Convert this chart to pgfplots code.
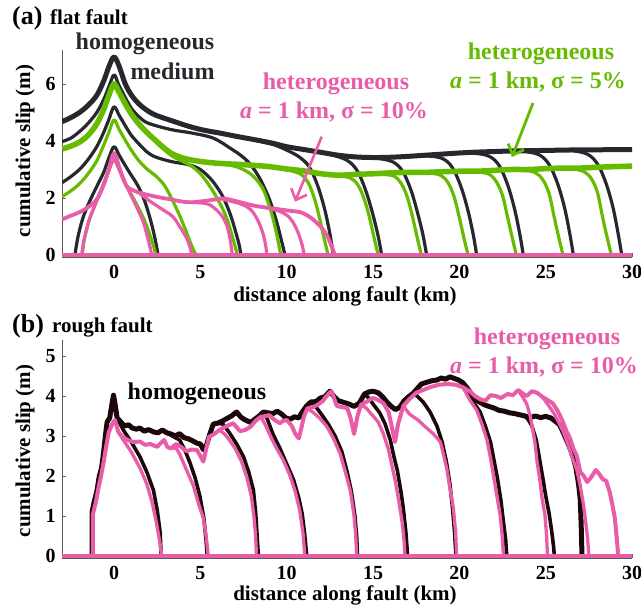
\documentclass[border=0pt]{standalone}
\usepackage{fontspec}
\setmainfont{Liberation Serif}
\usepackage{pgfplots}
\pgfplotsset{compat=1.18}
\usetikzlibrary{arrows.meta}
\definecolor{pk}{RGB}{233,92,168}
\definecolor{gr}{RGB}{102,187,0}
\definecolor{bka}{RGB}{37,40,44}
\definecolor{bkb}{RGB}{28,8,10}
\pgfplotsset{
  myaxis/.style={
    scale only axis, width=569.9pt, xmin=-3, xmax=30,
    axis x line*=bottom, axis y line*=left,
    axis line style={-, draw=black!65, line width=0.8pt},
    tick align=inside, major tick length=4pt,
    tick style={draw=black!60, line width=0.7pt},
    xtick={0,5,...,30},
    tick label style={font=\fontsize{20}{24}\selectfont\bfseries},
    /pgf/number format/assume math mode=true,
    xticklabel style={anchor=base, yshift=-21pt},
    yticklabel style={anchor=east, xshift=-3pt},
  },
  ba/.style={bka, line width=3.2pt, smooth, tension=0.55, line join=round},
  ga/.style={gr, line width=3.2pt, smooth, tension=0.55, line join=round},
  pa/.style={pk, line width=3.2pt, smooth, tension=0.55, line join=round},
  bb/.style={bkb, line width=3.6pt, line join=round},
  pb/.style={pk, line width=3.3pt, line join=round},
}
\newcommand{\lab}{\fontsize{21}{25}\selectfont\bfseries}
\newcommand{\ann}{\fontsize{24}{28}\selectfont\bfseries}
\begin{document}
\begin{tikzpicture}
\useasboundingbox (0,0) rectangle (641pt,609pt);
% ---------------- panel (a)
\begin{axis}[myaxis, at={(62.2pt,351.7pt)}, anchor=south west, height=207.5pt,
  ymin=-0.08, ymax=7.2, ytick={0,2,4,6}]
% black homogeneous
\addplot[ba, line width=5pt] coordinates {(-3,4.68) (-2.5,4.82) (-2,5.0) (-1.5,5.25) (-1,5.6) (-0.6,6.1) (-0.3,6.6) (0,6.95) (0.3,6.62) (0.64,6.02) (1.0,5.62) (1.41,5.32) (1.9,5.08) (2.4,4.91) (3.3,4.72) (4.3,4.52) (5.2,4.38) (6.2,4.27) (7.2,4.15) (8.2,4.04) (9.2,3.92) (10,3.8) (11,3.7) (12,3.6) (13,3.5) (14,3.44) (15,3.42) (16,3.43) (17,3.46) (18,3.5) (19,3.54) (20,3.58) (21,3.61) (22,3.63) (23,3.65) (24,3.66) (25,3.67) (26,3.68) (27,3.69) (28,3.69) (29,3.7) (30,3.7)};
\addplot[ba] coordinates {(-3,3.98) (-2.5,4.1) (-2,4.33) (-1.5,4.62) (-1,5.0) (-0.6,5.45) (-0.3,5.9) (0,6.32) (0.25,6.0) (0.5,5.7) (1.0,5.15) (1.5,4.82) (2.0,4.62) (3.3,4.4) (4.5,4.28) (5.75,4.1) (6.8,3.72) (7.5,3.42) (8.0,3.1) (8.5,2.62) (9.0,1.95) (9.4,1.2) (9.7,0.5) (9.9,0)};
\addplot[ba] coordinates {(-3,2.54) (-2.5,2.75) (-2,3.0) (-1.5,3.35) (-1,3.8) (-0.6,4.3) (-0.3,4.75) (0,5.2) (0.3,4.9) (0.64,4.55) (1.0,4.2) (1.41,3.92) (1.9,3.62) (2.4,3.44) (3.3,3.28) (4.3,3.17) (5.0,3.0) (5.7,2.6) (6.3,2.05) (6.75,1.4) (7.05,0.8) (7.25,0.35) (7.35,0)};
\addplot[ba] coordinates {(-2.26,0) (-2.1,0.6) (-1.8,1.3) (-1.4,1.9) (-1.0,2.4) (-0.6,2.9) (-0.3,3.4) (0,3.8) (0.3,3.5) (0.64,3.15) (1.0,2.8) (1.41,2.4) (1.8,1.85) (2.15,1.15) (2.4,0.5) (2.55,0)};
\addplot[ba] coordinates {(8.2,4.02) (9.2,3.88) (10.0,3.68) (10.7,3.45) (11.3,3.1) (11.8,2.42) (12.2,1.6) (12.5,0.75) (12.7,0)};
\addplot[ba] coordinates {(11.5,3.64) (12.5,3.53) (13.5,3.32) (14.1,2.94) (14.6,2.22) (15.0,1.4) (15.3,0.65) (15.5,0)};
\addplot[ba] coordinates {(14.1,3.43) (15.1,3.4) (16.1,3.28) (16.7,2.95) (17.2,2.27) (17.6,1.43) (17.9,0.68) (18.1,0)};
\addplot[ba] coordinates {(17.0,3.45) (18.0,3.48) (19.0,3.39) (19.6,3.06) (20.1,2.38) (20.5,1.55) (20.8,0.72) (21.0,0)};
\addplot[ba] coordinates {(19.7,3.56) (20.7,3.58) (21.7,3.47) (22.3,3.14) (22.8,2.45) (23.2,1.6) (23.5,0.72) (23.7,0)};
\addplot[ba] coordinates {(22.6,3.63) (23.6,3.64) (24.6,3.52) (25.2,3.17) (25.7,2.48) (26.1,1.63) (26.4,0.72) (26.6,0)};
\addplot[ba] coordinates {(25.4,3.66) (26.4,3.67) (27.4,3.54) (28.0,3.19) (28.5,2.5) (28.9,1.65) (29.2,0.72) (29.4,0)};
% green sigma = 5%
\addplot[ga, line width=5.5pt] coordinates {(-3,3.72) (-2.5,3.82) (-2,3.96) (-1.5,4.2) (-1,4.6) (-0.6,5.1) (-0.3,5.6) (0,6.0) (0.3,5.7) (0.64,5.32) (1.0,4.95) (1.41,4.62) (1.9,4.3) (2.37,4.04) (2.85,3.78) (3.34,3.56) (3.9,3.42) (4.5,3.33) (5.3,3.26) (6.2,3.21) (7.2,3.18) (8.2,3.14) (9,3.1) (10,3.02) (11,2.95) (12,2.85) (13,2.8) (14,2.83) (15,2.85) (16,2.88) (17,2.9) (18,2.9) (19,2.92) (20,2.94) (21,2.94) (22,2.97) (23,3.0) (24,3.0) (25,3.03) (26,3.05) (27,3.05) (28,3.08) (29,3.1) (30,3.12)};
\addplot[ga] coordinates {(-3,2.05) (-2.5,2.25) (-2,2.5) (-1.5,2.85) (-1,3.3) (-0.6,3.85) (-0.3,4.3) (0,4.74) (0.3,4.4) (0.64,4.04) (1.0,3.68) (1.41,3.33) (1.9,3.02) (2.37,2.8) (2.85,2.5) (3.24,2.1) (3.6,1.65) (4.0,1.1) (4.35,0.55) (4.6,0.18) (4.75,0)};
\addplot[ga] coordinates {(-1.85,0) (-1.7,0.6) (-1.4,1.3) (-1.0,1.9) (-0.6,2.5) (-0.3,3.0) (0,3.35) (0.3,3.0) (0.7,2.45) (1.2,1.9) (1.7,1.3) (2.05,0.75) (2.3,0.3) (2.42,0)};
\addplot[ga] coordinates {(2.4,3.98) (3.3,3.5) (4.4,3.15) (5.0,2.85) (5.56,2.4) (6.1,1.85) (6.52,1.3) (6.85,0.65) (7.15,0)};
\addplot[ga] coordinates {(5.5,3.24) (6.5,3.18) (7.3,3.05) (8.0,2.8) (8.6,2.35) (8.95,1.8) (9.2,1.3) (9.45,0.65) (9.65,0)};
\addplot[ga] coordinates {(9.0,3.08) (10.0,2.99) (10.8,2.84) (11.25,2.53) (11.6,1.99) (11.9,1.3) (12.18,0.55) (12.4,0)};
\addplot[ga] coordinates {(11.9,2.85) (12.9,2.78) (13.7,2.7) (14.15,2.43) (14.5,1.94) (14.8,1.3) (15.08,0.55) (15.3,0)};
\addplot[ga] coordinates {(14.4,2.83) (15.4,2.83) (16.2,2.77) (16.65,2.49) (17.0,2.0) (17.3,1.3) (17.58,0.55) (17.8,0)};
\addplot[ga] coordinates {(17.1,2.89) (18.1,2.88) (18.9,2.8) (19.35,2.53) (19.7,2.03) (20.0,1.3) (20.28,0.55) (20.5,0)};
\addplot[ga] coordinates {(19.9,2.93) (20.9,2.92) (21.7,2.84) (22.15,2.56) (22.5,2.08) (22.8,1.3) (23.08,0.55) (23.3,0)};
\addplot[ga] coordinates {(22.6,2.98) (23.6,2.98) (24.4,2.89) (24.85,2.62) (25.2,2.14) (25.5,1.3) (25.78,0.55) (26.0,0)};
\addplot[ga] coordinates {(25.4,3.03) (26.4,3.03) (27.2,2.93) (27.65,2.67) (28.0,2.18) (28.3,1.3) (28.58,0.55) (28.8,0)};
% pink sigma = 10%
\addplot[pa, line width=3.8pt] coordinates {(-3,1.25) (-2.5,1.38) (-2,1.5) (-1.5,1.68) (-1.0,1.95) (-0.6,2.45) (-0.3,3.0) (0,3.57) (0.35,3.0) (0.7,2.45) (1.0,2.3) (1.5,2.18) (2.4,2.05) (3.3,1.95) (4.3,1.85) (5.3,1.9) (6.3,1.98) (7.0,1.9) (7.5,1.82) (8.2,1.72) (9.0,1.65) (10.2,1.55) (10.8,1.5) (11.3,1.35) (11.7,1.15) (12.1,0.9) (12.4,0.6) (12.6,0.3) (12.8,0)};
\addplot[pa] coordinates {(-1.87,0) (-1.75,0.5) (-1.5,1.1) (-1.2,1.6) (-0.8,2.2) (-0.4,2.8) (-0.15,3.2) (0,3.35) (0.2,3.15) (0.5,2.7) (0.9,2.2) (1.3,1.7) (1.7,1.15) (1.95,0.6) (2.1,0.25) (2.18,0)};
\addplot[pa] coordinates {(1.5,2.15) (2.1,1.88) (2.8,1.6) (3.4,1.35) (3.8,1.0) (4.2,0.6) (4.4,0.28) (4.5,0)};
\addplot[pa] coordinates {(4.3,1.85) (5.37,1.8) (5.9,1.6) (6.33,1.3) (6.6,0.9) (6.75,0.45) (6.85,0)};
\addplot[pa] coordinates {(6.3,1.95) (7.3,1.8) (7.9,1.6) (8.3,1.25) (8.6,0.8) (8.78,0.35) (8.84,0)};
\addplot[pa] coordinates {(8.5,1.7) (9.5,1.55) (10.1,1.35) (10.5,1.0) (10.8,0.55) (10.95,0.2) (11.02,0)};
\addplot[pk, line width=3.4pt] coordinates {(-3,0) (30,0)};
\end{axis}
% ---------------- panel (b)
\begin{axis}[myaxis, at={(62.2pt,50.6pt)}, anchor=south west, height=218.4pt,
  ymin=-0.06, ymax=5.4, ytick={0,1,2,3,4,5}]
% black homogeneous
\addplot[bb, line width=5pt] coordinates {(-1.27,0) (-1.27,1.1) (-1.15,1.35) (-1.0,1.6) (-0.85,2.0) (-0.72,2.2) (-0.6,2.6) (-0.5,3.0) (-0.4,3.35) (-0.25,3.45) (-0.12,3.8) (-0.03,4.02) (0.08,3.75) (0.18,3.45) (0.4,3.35) (0.6,3.25) (0.85,3.28) (1.05,3.2) (1.3,3.17) (1.5,3.2) (1.75,3.12) (2.0,3.16) (2.3,3.1) (2.55,3.08) (2.8,3.15) (3.05,3.08) (3.3,3.05) (3.55,3.0) (3.8,3.06) (4.05,2.96) (4.3,2.93) (4.55,2.88) (4.8,2.82) (5.0,2.8) (5.17,2.66) (5.36,2.78) (5.55,3.05) (5.75,3.3) (6.0,3.32) (6.3,3.38) (6.55,3.44) (6.8,3.5) (7.1,3.6) (7.35,3.47) (7.6,3.4) (7.9,3.34) (8.1,3.4) (8.4,3.5) (8.65,3.6) (8.9,3.58) (9.2,3.56) (9.45,3.62) (9.7,3.55) (9.95,3.45) (10.2,3.42) (10.45,3.48) (10.7,3.45) (10.9,3.6) (11.15,3.75) (11.4,3.85) (11.7,3.86) (11.95,3.95) (12.2,3.98) (12.5,4.12) (12.75,3.98) (13.0,3.88) (13.3,3.84) (13.6,3.8) (13.9,3.74) (14.2,3.82) (14.5,4.05) (14.75,4.1) (15.0,4.12) (15.3,4.08) (15.55,3.98) (15.8,3.85) (16.05,3.74) (16.3,3.66) (16.55,3.72) (16.8,3.88) (17.05,3.98) (17.3,4.06) (17.55,4.18) (17.8,4.3) (18.1,4.34) (18.4,4.38) (18.7,4.4) (18.95,4.45) (19.2,4.42) (19.45,4.48) (19.7,4.44) (19.95,4.4) (20.2,4.33) (20.45,4.2) (20.7,4.05) (20.95,3.9) (21.2,3.84) (21.45,3.78) (21.7,3.74) (22.0,3.7) (22.3,3.64) (22.6,3.62) (22.9,3.58) (23.2,3.56) (23.5,3.53) (23.8,3.5) (24.1,3.46) (24.4,3.5) (24.7,3.46) (25.0,3.49) (25.3,3.45) (25.55,3.37) (25.8,3.28) (26.0,3.1) (26.2,2.9) (26.4,2.7) (26.6,2.45) (26.75,2.2) (26.9,1.8) (27.0,1.4) (27.05,0.8) (27.1,0)};
\addplot[bb] coordinates {(0.18,3.45) (0.54,3.15) (1.0,2.85) (1.5,2.48) (1.9,2.1) (2.28,1.65) (2.5,1.15) (2.67,0.6) (2.73,0)};
\addplot[bb] coordinates {(3.05,3.08) (3.3,3.02) (3.8,2.9) (4.1,2.65) (4.4,2.33) (4.7,1.95) (4.97,1.5) (5.2,0.95) (5.33,0.4) (5.4,0)};
\addplot[bb] coordinates {(6.0,3.32) (6.3,3.3) (6.7,3.07) (7.1,2.8) (7.5,2.48) (7.8,2.1) (8.07,1.65) (8.2,1.1) (8.28,0.55) (8.36,0)};
\addplot[bb] coordinates {(8.65,3.6) (8.9,3.4) (9.2,3.05) (9.6,2.7) (10.0,2.3) (10.4,1.9) (10.7,1.45) (10.9,1.05) (11.05,0.5) (11.16,0)};
\addplot[bb] coordinates {(11.4,3.85) (11.7,3.72) (12.0,3.55) (12.4,3.3) (12.8,3.0) (13.2,2.6) (13.5,2.1) (13.75,1.6) (13.95,1.0) (14.05,0.5) (14.1,0)};
\addplot[bb] coordinates {(14.5,4.05) (14.75,3.95) (15.0,3.8) (15.4,3.57) (15.7,3.3) (16.0,2.9) (16.2,2.5) (16.4,2.15) (16.6,1.65) (16.75,1.2) (16.9,0.6) (17.0,0)};
\addplot[bb] coordinates {(17.3,4.06) (17.55,4.0) (17.9,3.85) (18.3,3.6) (18.7,3.25) (19.0,2.85) (19.25,2.35) (19.45,1.8) (19.6,1.2) (19.72,0.6) (19.8,0)};
\addplot[bb] coordinates {(20.2,4.33) (20.5,4.1) (20.8,3.85) (21.2,3.6) (21.5,3.25) (21.8,2.85) (22.0,2.4) (22.2,1.95) (22.4,1.4) (22.55,0.85) (22.68,0.4) (22.74,0)};
\addplot[bb] coordinates {(23.8,3.5) (24.0,3.4) (24.2,3.25) (24.45,2.9) (24.65,2.4) (24.85,1.9) (25.0,1.5) (25.2,1.05) (25.35,0.6) (25.45,0.25) (25.5,0)};
% pink heterogeneous
\addplot[pb, line width=4pt] coordinates {(-1.22,0) (-1.22,1.05) (-1.05,1.35) (-0.9,1.7) (-0.75,2.0) (-0.6,2.35) (-0.45,2.75) (-0.3,3.1) (-0.1,3.3) (0.05,3.4) (0.25,3.1) (0.5,2.98) (0.8,2.9) (1.1,2.85) (1.5,2.86) (1.8,2.78) (2.1,2.8) (2.5,2.73) (2.7,2.82) (2.9,2.9) (3.1,2.72) (3.3,2.69) (3.6,2.8) (3.9,2.72) (4.2,2.62) (4.5,2.66) (4.8,2.65) (5.0,2.5) (5.17,2.36) (5.35,2.7) (5.5,2.98) (5.8,3.05) (6.1,3.15) (6.4,3.22) (6.7,3.28) (6.9,3.32) (7.1,3.22) (7.3,3.12) (7.6,3.15) (7.9,3.23) (8.2,3.38) (8.5,3.48) (8.8,3.5) (9.0,3.52) (9.3,3.4) (9.6,3.32) (9.8,3.38) (10.0,3.4) (10.3,3.25) (10.5,3.05) (10.7,2.94) (10.85,3.2) (11.0,3.5) (11.2,3.69) (11.5,3.72) (11.8,3.78) (12.1,3.88) (12.4,4.05) (12.6,4.12) (12.9,3.75) (13.2,3.72) (13.5,3.7) (13.7,3.45) (13.9,3.05) (14.1,3.5) (14.3,3.78) (14.6,3.85) (15.0,3.95) (15.3,3.9) (15.6,3.82) (15.9,3.6) (16.1,3.2) (16.27,2.85) (16.45,3.3) (16.75,3.75) (17.1,3.92) (17.5,4.08) (17.9,4.15) (18.3,4.22) (18.8,4.28) (19.3,4.3) (19.8,4.28) (20.2,4.22) (20.6,4.12) (20.9,4.0) (21.2,3.92) (21.5,3.88) (21.8,4.02) (22.1,4.0) (22.4,3.95) (22.8,4.05) (23.1,4.02) (23.4,4.15) (23.7,4.05) (23.9,4.0) (24.2,4.12) (24.5,4.08) (24.8,3.98) (25.1,3.9) (25.4,3.82) (25.7,3.62) (26.0,3.35) (26.2,3.12) (26.4,2.95) (26.6,2.68) (26.8,2.5) (27.0,2.1) (27.2,2.0) (27.4,1.85) (27.6,1.95) (27.9,2.15) (28.1,2.05) (28.3,1.92) (28.5,1.88) (28.7,1.6) (28.85,1.3) (29.0,0.95) (29.1,0.5) (29.2,0)};
\addplot[pb] coordinates {(0.25,3.1) (0.54,2.9) (1.0,2.6) (1.5,2.2) (1.9,1.8) (2.2,1.35) (2.45,0.85) (2.65,0.35) (2.76,0)};
\addplot[pb] coordinates {(3.3,2.69) (3.6,2.7) (3.8,2.55) (4.2,2.15) (4.6,1.75) (4.9,1.3) (5.17,0.95) (5.35,0.45) (5.46,0)};
\addplot[pb] coordinates {(6.1,3.15) (6.4,3.05) (6.6,2.95) (7.0,2.7) (7.4,2.35) (7.7,1.95) (7.95,1.5) (8.1,1.0) (8.2,0.5) (8.25,0)};
\addplot[pb] coordinates {(8.5,3.48) (8.8,3.25) (9.0,3.05) (9.4,2.7) (9.8,2.4) (10.2,2.0) (10.5,1.6) (10.75,1.15) (10.95,0.55) (11.05,0)};
\addplot[pb] coordinates {(11.2,3.69) (11.5,3.6) (11.9,3.45) (12.3,3.25) (12.7,2.95) (13.1,2.55) (13.4,2.1) (13.7,1.6) (13.9,1.0) (14.0,0.5) (14.05,0)};
\addplot[pb] coordinates {(14.3,3.78) (14.6,3.7) (14.9,3.55) (15.3,3.35) (15.6,3.05) (15.9,2.65) (16.1,2.25) (16.3,1.85) (16.5,1.35) (16.7,0.8) (16.8,0.35) (16.85,0)};
\addplot[pb] coordinates {(16.75,3.75) (17.1,3.55) (17.6,3.4) (18.1,3.2) (18.5,3.05) (18.9,2.85) (19.1,2.5) (19.26,2.2) (19.45,1.7) (19.65,1.2) (19.78,0.6) (19.84,0)};
\addplot[pb] coordinates {(20.2,4.22) (20.6,3.9) (21.0,3.65) (21.3,3.3) (21.6,2.9) (21.8,2.45) (21.96,2.05) (22.15,1.55) (22.35,1.05) (22.48,0.5) (22.55,0)};
\addplot[pb] coordinates {(23.4,4.15) (23.7,3.95) (23.9,3.8) (24.1,3.5) (24.25,3.15) (24.37,2.85) (24.5,2.35) (24.66,1.9) (24.8,1.4) (24.95,1.05) (25.05,0.5) (25.1,0)};
\addplot[pb] coordinates {(24.8,3.98) (25.1,3.8) (25.5,3.55) (25.8,3.3) (26.0,3.12) (26.2,2.9) (26.5,2.5) (26.8,2.15) (27.0,1.75) (27.18,1.3) (27.3,0.9) (27.42,0.45) (27.5,0)};
\addplot[pk, line width=3.6pt] coordinates {(-3,0) (30,0)};
\end{axis}
% ---------------- labels
\node[anchor=base west, inner sep=0pt, font=\fontsize{26}{30}\selectfont\bfseries] at (12pt,584pt) {(a)};
\node[anchor=base west, inner sep=0pt, font=\lab] at (50pt,584pt) {flat fault};
\node[anchor=base west, inner sep=0pt, font=\fontsize{26}{30}\selectfont\bfseries] at (12pt,276pt) {(b)};
\node[anchor=base west, inner sep=0pt, font=\lab] at (52pt,276pt) {rough fault};
\node[rotate=90, font=\lab] at (25pt,458pt) {cumulative slip (m)};
\node[rotate=90, font=\lab] at (25pt,158pt) {cumulative slip (m)};
\node[anchor=base, font=\lab] at (345pt,307pt) {distance along fault (km)};
\node[anchor=base, font=\lab] at (345pt,8pt) {distance along fault (km)};
% annotations (a)
\node[anchor=base, font=\ann, text=bka] at (145pt,559pt) {homogeneous};
\node[anchor=base, font=\ann, text=bka] at (172.5pt,529pt) {medium};
\node[anchor=base, font=\ann, text=pk] at (336pt,519pt) {heterogeneous};
\node[anchor=base, font=\ann, text=pk] at (334pt,490pt) {\textit{a} = 1 km, σ = 10\%};
\node[anchor=base, font=\ann, text=gr] at (541pt,549pt) {heterogeneous};
\node[anchor=base, font=\ann, text=gr] at (538pt,520pt) {\textit{a} = 1 km, σ = 5\%};
\draw[pk, line width=2.6pt, -{Straight Barb[length=9pt,width=17pt]}] (321.7pt,472.3pt) -- (295pt,407.3pt);
\draw[gr, line width=2.8pt, -{Straight Barb[length=9pt,width=17pt]}] (533pt,506pt) -- (512pt,452pt);
% annotations (b)
\node[anchor=base, font=\ann, text=black] at (197pt,209pt) {homogeneous};
\node[anchor=base, font=\ann, text=pk] at (547pt,264pt) {heterogeneous};
\node[anchor=base, font=\ann, text=pk] at (544pt,235pt) {\textit{a} = 1 km, σ = 10\%};
\end{tikzpicture}
\end{document}
